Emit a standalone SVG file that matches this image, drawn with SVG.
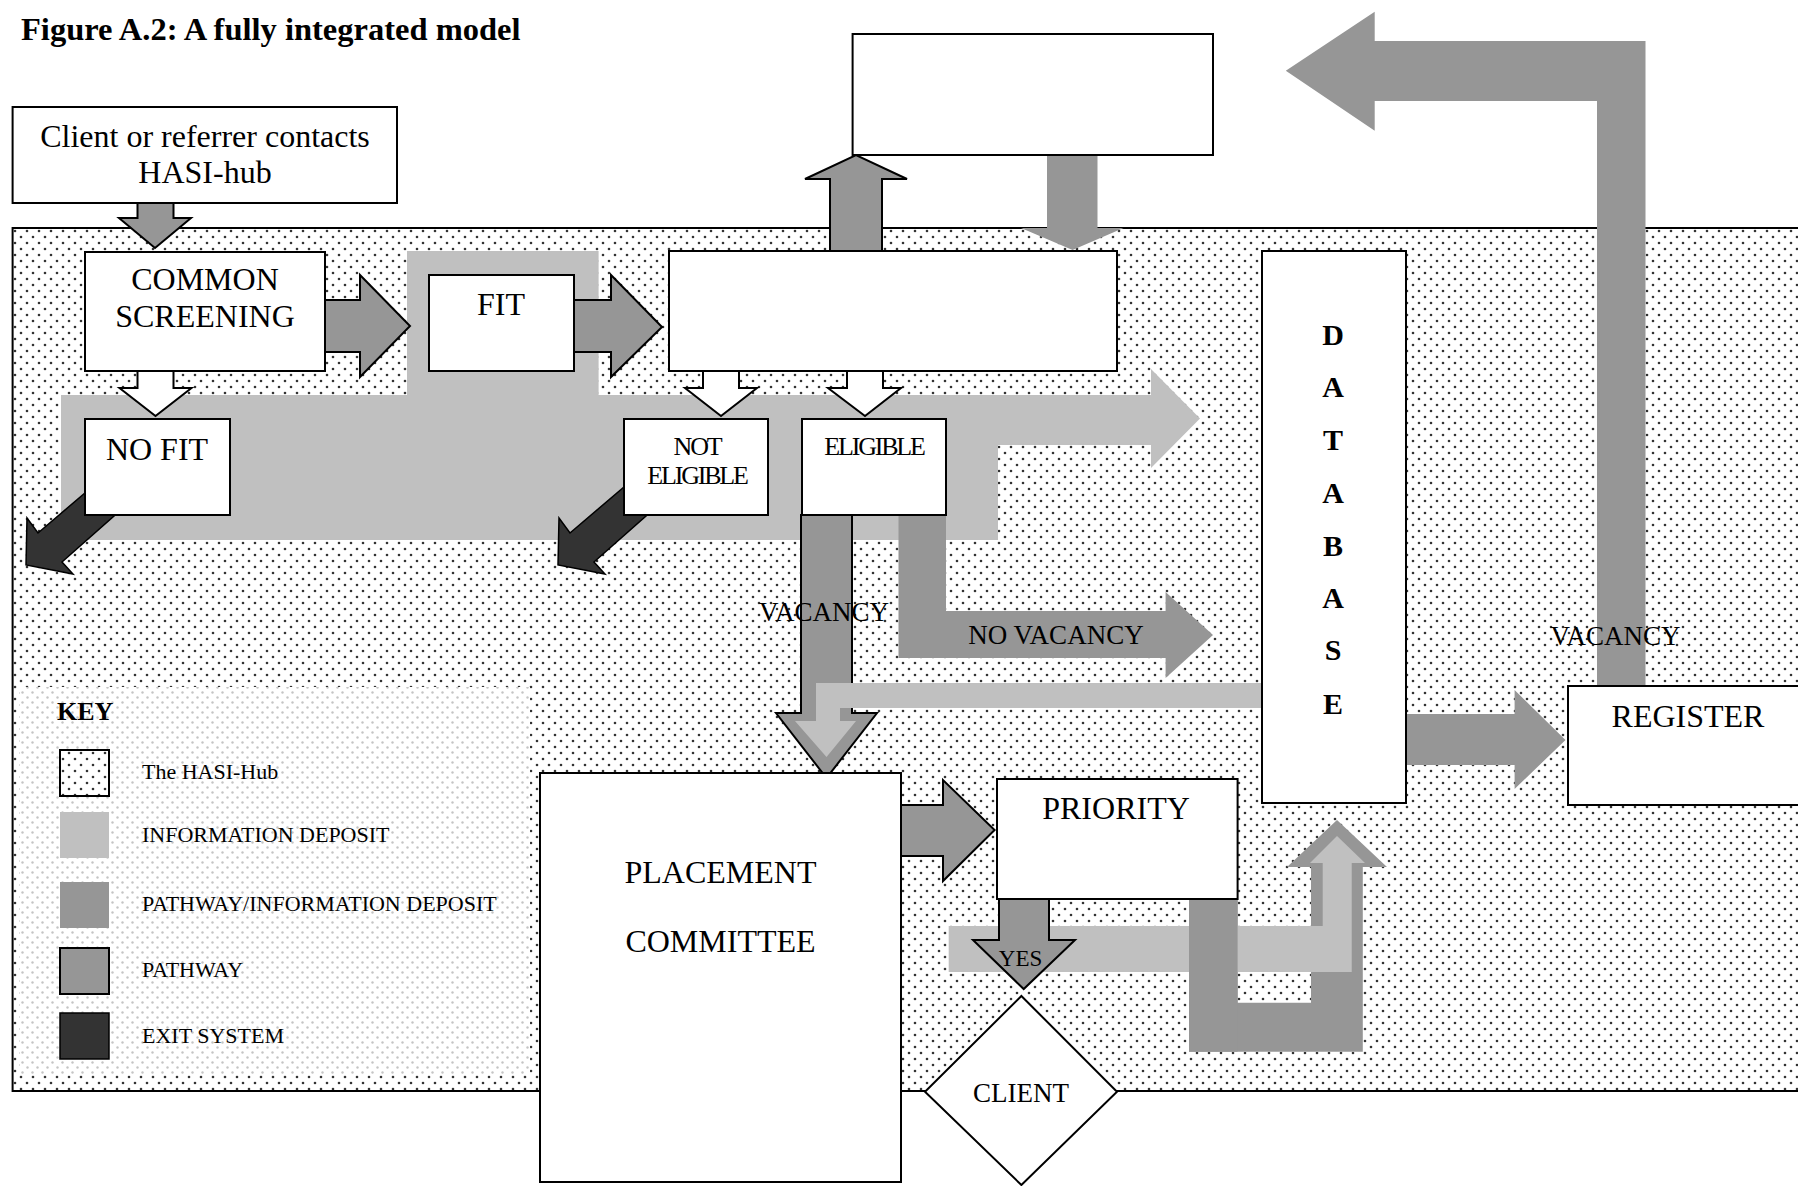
<svg xmlns="http://www.w3.org/2000/svg" width="1798" height="1186" viewBox="0 0 1798 1186">
<style>
text{font-family:"Liberation Serif","Times New Roman",serif;fill:#000}
.lbl{font-size:32px;text-anchor:middle}
.mid{font-size:27px;text-anchor:middle}
.key{font-size:22px}
.box{fill:#fff;stroke:#000;stroke-width:2}
.pw{fill:#969696;stroke:#000;stroke-width:2;stroke-linejoin:miter}
.pd{fill:#969696}
.info{fill:#c0c0c0}
.wa{fill:#fff;stroke:#000;stroke-width:2}
.exit{fill:#333;stroke:#000;stroke-width:1.5}
.db{font-size:30px;font-weight:bold;text-anchor:middle}
.cond{font-size:26px;text-anchor:middle;letter-spacing:-2.2px}
</style>
<defs>
<pattern id="hub" width="12" height="12" patternUnits="userSpaceOnUse">
<rect width="12" height="12" fill="#fff"/>
<circle cx="3" cy="3" r="1.3" fill="#333"/>
<circle cx="9" cy="9" r="1.3" fill="#333"/>
</pattern>
<pattern id="lite" width="10" height="10" patternUnits="userSpaceOnUse">
<rect width="10" height="10" fill="#fff"/>
<circle cx="2.5" cy="2.5" r="1.2" fill="#c4c4c4"/>
<circle cx="7.5" cy="7.5" r="1.2" fill="#c4c4c4"/>
</pattern>
</defs>
<rect width="1798" height="1186" fill="#fff"/>
<text x="21" y="40" style="font-size:32.5px;font-weight:bold">Figure A.2: A fully integrated model</text>

<g id="hasi-hub">
<rect x="12.6" y="228" width="1800" height="863" fill="url(#hub)" stroke="#000" stroke-width="2"/>
</g>

<g id="key">
<rect x="20" y="687" width="510" height="388" fill="url(#lite)"/>
<text x="57" y="720" style="font-size:26px;font-weight:bold">KEY</text>
<rect x="60" y="750" width="49" height="46" fill="url(#hub)" stroke="#000" stroke-width="2"/>
<text class="key" x="142" y="779">The HASI-Hub</text>
<rect x="60" y="812" width="49" height="46" class="info"/>
<text class="key" x="142" y="842">INFORMATION DEPOSIT</text>
<rect x="60" y="882" width="49" height="46" class="pd"/>
<text class="key" x="142" y="911">PATHWAY/INFORMATION DEPOSIT</text>
<rect x="60" y="948" width="49" height="46" class="pw"/>
<text class="key" x="142" y="977">PATHWAY</text>
<rect x="60" y="1013" width="49" height="46" class="exit"/>
<text class="key" x="142" y="1043">EXIT SYSTEM</text>
</g>

<g id="connectors">
<polygon class="info" points="61,395 407,395 407,251 598.6,251 598.6,395 1151,395 1151,369 1200,418.5 1151,468 1151,445 998,445 998,540 61,540"/>
<polygon class="exit" points="99,481 38,533 27,518 26,565 73,574 62,562 131,501"/>
<polygon class="exit" transform="translate(532,0)" points="99,481 38,533 27,518 26,565 73,574 62,562 131,501"/>
<polygon class="pw" points="137.5,203 137.5,218 119,218 155,248 191,218 173.5,218 173.5,203"/>
<polygon class="pw" points="325,300 360,300 360,275 410,326 360,377 360,352 325,352"/>
<polygon class="pw" points="574,300 611,300 611,275 662,327 611,377 611,352 574,352"/>
<polygon class="wa" points="137.5,371 137.5,388 119.5,388 155.5,416 191.5,388 173.5,388 173.5,371"/>
<polygon class="wa" points="703,371 703,388 685,388 721,416 757,388 739,388 739,371"/>
<polygon class="wa" points="847,371 847,388 828,388 865,416 901,388 883,388 883,371"/>
<polygon class="pw" points="830,251 830,179 805,179 856,155 907,179 882,179 882,251"/>
<polygon class="pd" points="1047,155 1097.5,155 1097.5,228 1123.5,228 1072.6,250 1021,228 1047,228"/>
<polygon class="pd" points="1597,686 1597,101 1374.7,101 1374.7,130.7 1285.8,70.7 1374.7,11.7 1374.7,41 1645.5,41 1645.5,686"/>
<polygon class="pw" points="801,515 801,713 776,713 826.5,778 877,713 852,713 852,515"/>
<polygon class="info" points="1262,683 816,683 816,721 795,721 826.5,757 856,721 840,721 840,708 1262,708"/>
<polygon class="pd" points="898.5,515 946,515 946,611 1165.6,611 1165.6,592 1213,635 1165.6,678 1165.6,658 898.5,658"/>
<polygon class="pd" points="1406,714 1514.6,714 1514.6,690 1565.5,740 1514.6,789 1514.6,765 1406,765"/>
<polygon class="pw" points="901,805 943,805 943,780 994.6,830 943,881 943,856 901,856"/>
<polygon class="pd" points="1189,899 1237.6,899 1237.6,1002.7 1311,1002.7 1311,867 1287,867 1337,820 1387,867 1362.8,867 1362.8,1051.7 1189,1051.7"/>
<polygon class="info" points="948.7,926 1322.7,926 1322.7,863 1310,863 1337,836 1365,863 1351.7,863 1351.7,972 948.7,972"/>
<rect class="pd" x="1189" y="899" width="48.6" height="152.7"/>
<polygon class="pw" points="999,899 999,940 973,940 1023.7,989 1075,940 1049,940 1049,899"/>
<text class="mid" x="824" y="621">VACANCY</text>
<text class="mid" x="1056" y="644">NO VACANCY</text>
<text class="mid" x="1615.5" y="645">VACANCY</text>
<text x="1020.5" y="966" style="font-size:23px;text-anchor:middle">YES</text>
</g>

<g id="client-contact">
<rect class="box" x="12.6" y="107" width="384.4" height="96"/>
<text class="lbl" x="205" y="147">Client or referrer contacts</text>
<text class="lbl" x="205" y="183">HASI-hub</text>
</g>
<g id="top-box"><rect class="box" x="852.6" y="34" width="360.4" height="121"/></g>
<g id="common-screening">
<rect class="box" x="85" y="252" width="240" height="119"/>
<text class="lbl" x="205" y="290">COMMON</text>
<text class="lbl" x="205" y="327">SCREENING</text>
</g>
<g id="fit">
<rect class="box" x="429" y="275" width="145" height="96"/>
<text class="lbl" x="501" y="315">FIT</text>
</g>
<g id="assessment"><rect class="box" x="669" y="251" width="448" height="120"/></g>
<g id="no-fit">
<rect class="box" x="85" y="419" width="145" height="96"/>
<text class="lbl" x="157" y="460">NO FIT</text>
</g>
<g id="not-eligible">
<rect class="box" x="624" y="419" width="144" height="96"/>
<text class="cond" x="697" y="455">NOT</text>
<text class="cond" x="697" y="484">ELIGIBLE</text>
</g>
<g id="eligible">
<rect class="box" x="802" y="419" width="144" height="96"/>
<text class="cond" x="874" y="455">ELIGIBLE</text>
</g>
<g id="database">
<rect class="box" x="1262" y="251" width="144" height="552"/>
<text class="db" x="1333" y="345">D</text>
<text class="db" x="1333" y="397">A</text>
<text class="db" x="1333" y="450">T</text>
<text class="db" x="1333" y="503">A</text>
<text class="db" x="1333" y="556">B</text>
<text class="db" x="1333" y="608">A</text>
<text class="db" x="1333" y="660">S</text>
<text class="db" x="1333" y="714">E</text>
</g>
<g id="register">
<rect class="box" x="1568" y="686" width="240" height="119"/>
<text class="lbl" x="1688" y="727">REGISTER</text>
</g>
<g id="placement-committee">
<rect class="box" x="540" y="773" width="361" height="409"/>
<text class="lbl" x="720.5" y="883">PLACEMENT</text>
<text class="lbl" x="720.5" y="952">COMMITTEE</text>
</g>
<g id="priority">
<rect class="box" x="997" y="779" width="240.6" height="120"/>
<text class="lbl" x="1116" y="819">PRIORITY</text>
</g>
<g id="client">
<polygon class="box" points="1021.4,996 1117,1091.7 1021.4,1185 925,1091.7"/>
<text x="1021" y="1101.7" style="font-size:27px;text-anchor:middle">CLIENT</text>
</g>
</svg>
